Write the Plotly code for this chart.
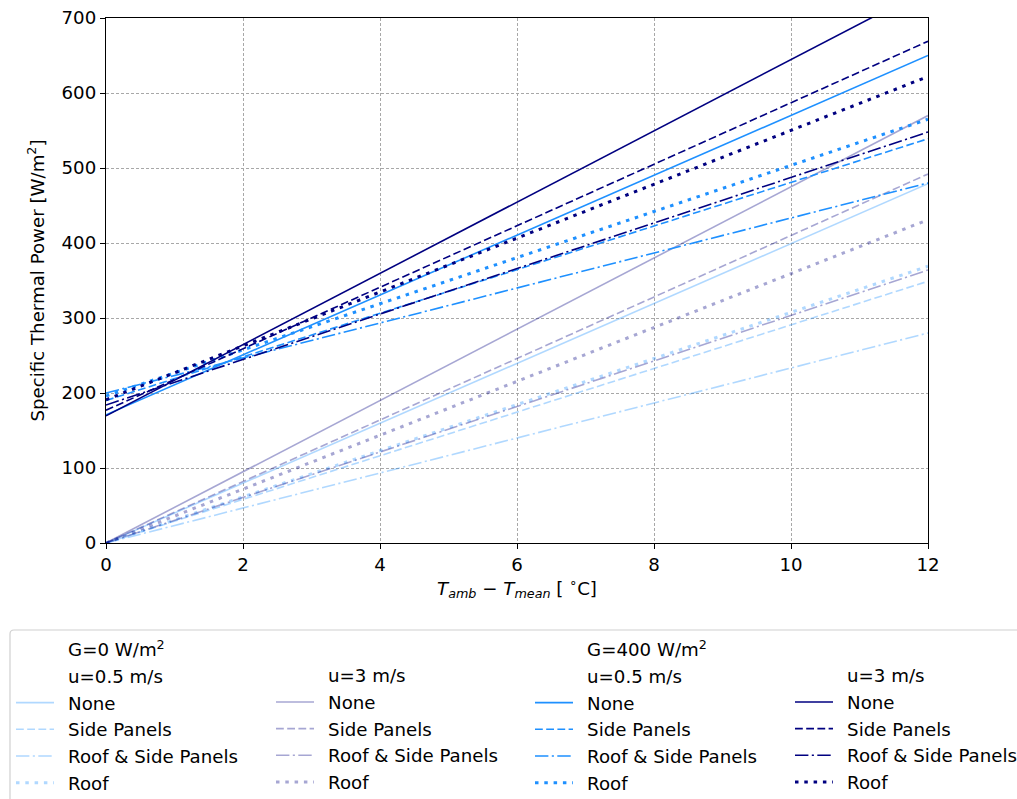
import plotly.graph_objects as go

# Temperature difference span (x) and specific thermal power at both ends (W/m2)
dT = [0, 12]

cover_types = ["None", "Side Panels", "Roof & Side Panels", "Roof"]

# G = 0 W/m2
g0_u05 = {"None": [0, 479], "Side Panels": [0, 349], "Roof & Side Panels": [0, 280], "Roof": [0, 369]}
g0_u3 = {"None": [0, 570], "Side Panels": [0, 492], "Roof & Side Panels": [0, 364], "Roof": [0, 431]}

# G = 400 W/m2
g400_u05 = {"None": [171, 650], "Side Panels": [190, 539], "Roof & Side Panels": [200, 480], "Roof": [196, 565]}
g400_u3 = {"None": [169.5, 739.5], "Side Panels": [177, 669], "Roof & Side Panels": [184, 548], "Roof": [191, 622]}

FONT = "DejaVu Sans"
FS = 18.2

W, H = 1017, 799
ML, MR, MT, MB = 106, 89, 18, 256
PW, PH = W - ML - MR, H - MT - MB


def px_x(p):
    return (p - ML) / PW


def px_y(p):
    return (H - MB - p) / PH


dash_style = {
    "None": ("solid", 1.6),
    "Side Panels": ("7.8px,3.4px", 1.6),
    "Roof & Side Panels": ("13.4px,3.4px,2.1px,3.4px", 1.6),
    "Roof": ("3.5px,5.8px", 3.0),
}

groups = [
    # data, colour, legend id, header rows
    (g0_u05, "rgba(30,144,255,0.35)", "legend", ["G=0 W/m<sup>2</sup>", "u=0.5 m/s"]),
    (g0_u3, "rgba(0,0,128,0.35)", "legend2", ["u=3 m/s"]),
    (g400_u05, "#1E90FF", "legend3", ["G=400 W/m<sup>2</sup>", "u=0.5 m/s"]),
    (g400_u3, "#000080", "legend4", ["u=3 m/s"]),
]

PAD = "\u2002"  # spacing between legend handle and label

fig = go.Figure()

for data, color, leg, headers in groups:
    for h in headers:
        fig.add_trace(go.Scatter(
            x=[None], y=[None], mode="lines", name=PAD + h, legend=leg,
            line=dict(color="rgba(0,0,0,0)", width=1), hoverinfo="skip",
        ))
    for ct in cover_types:
        dash, width = dash_style[ct]
        fig.add_trace(go.Scatter(
            x=dT, y=data[ct], mode="lines", name=PAD + ct, legend=leg,
            line=dict(color=color, width=width, dash=dash),
        ))

# legend columns: label x positions and top edges (pixels)
text_x = [68, 328, 587, 847]
col_top = [631, 657, 631, 657]
TEXT_GAP = 57

legend_common = dict(
    bgcolor="rgba(0,0,0,0)", borderwidth=0, itemwidth=38,
    font=dict(family=FONT, size=FS, color="black"),
    xanchor="left", yanchor="top", orientation="v", tracegroupgap=0,
)
leg_layout = {}
for i, name in enumerate(["legend", "legend2", "legend3", "legend4"]):
    leg_layout[name] = dict(
        legend_common,
        x=px_x(text_x[i] - TEXT_GAP),
        y=px_y(col_top[i]),
    )

# legend frame (open on the right and bottom, which run off the page)
x0, x1 = px_x(10), px_x(1040)
y0, yb = px_y(630), px_y(830)
r_x, r_y = 4 / PW, 4 / PH
frame = (f"M {x0},{yb} L {x0},{y0 - r_y} Q {x0},{y0} {x0 + r_x},{y0} L {x1},{y0}")

fig.update_layout(
    width=W, height=H,
    margin=dict(l=ML, r=MR, t=MT, b=MB, autoexpand=False),
    paper_bgcolor="white", plot_bgcolor="white",
    font=dict(family=FONT, size=FS, color="black"),
    showlegend=True,
    shapes=[dict(type="path", path=frame, xref="paper", yref="paper",
                 line=dict(color="#d0d0d0", width=1.2))],
    **leg_layout,
)

axis_common = dict(
    showline=True, linecolor="black", linewidth=1.3, mirror=True,
    ticks="outside", ticklen=5, tickwidth=1.2, tickcolor="black",
    showgrid=True, gridcolor="#a8a8a8", gridwidth=0.8, griddash="3px,2px",
    zeroline=False, tickfont=dict(family=FONT, size=FS, color="black"),
)

fig.update_xaxes(
    axis_common, range=[0, 12], tickvals=[0, 2, 4, 6, 8, 10, 12],
    title=dict(text="<i>T</i><sub><i>amb</i></sub> \u2212 <i>T</i><sub><i>mean</i></sub> [ <sup>\u2218</sup>C]",
               font=dict(family=FONT, size=FS), standoff=6),
)
fig.update_yaxes(
    axis_common, range=[0, 700], tickvals=[0, 100, 200, 300, 400, 500, 600, 700],
    title=dict(text="Specific Thermal Power [W/m<sup>2</sup>]",
               font=dict(family=FONT, size=FS), standoff=12),
)

fig.write_html("out.html")
